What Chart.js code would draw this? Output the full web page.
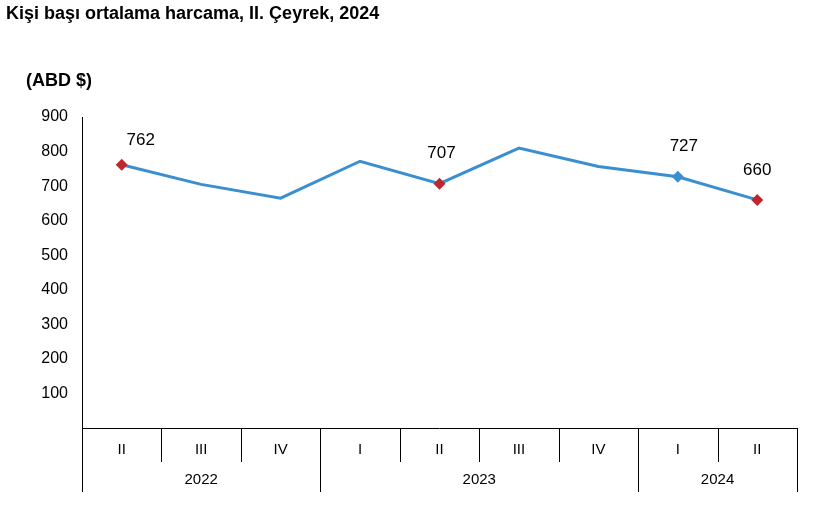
<!DOCTYPE html><html><head><meta charset="utf-8">
<script src="https://cdn.jsdelivr.net/npm/chart.js@4/dist/chart.umd.min.js"></script>
<style>body{margin:0;background:#fff}#w{position:relative;width:820px;height:512px}
.t{position:absolute;font-family:"Liberation Sans",Arial,sans-serif;font-weight:bold;color:#000}</style></head><body>
<div id="w"><div class="t" style="left:6px;top:3px;font-size:18px">Kişi başı ortalama harcama, II. Çeyrek, 2024</div>
<div class="t" style="left:26px;top:70px;font-size:18px">(ABD $)</div>
<canvas id="c" width="820" height="512"></canvas></div>
<script>
const quarters=["II","III","IV","I","II","III","IV","I","II"];
const years=[{label:"2022",from:0,to:2},{label:"2023",from:3,to:6},{label:"2024",from:7,to:8}];
const values=[762,705,665,772,707,810,757,727,660];
const shownLabels=[762,null,null,null,707,null,null,727,660];
const markerColors=["#c0272d",null,null,null,"#c0272d",null,null,"#3a8fd0","#c0272d"];
const yTicks=[100,200,300,400,500,600,700,800,900];
const F='"Liberation Sans",Arial,sans-serif';
const deco={id:'deco',afterDraw(ch){const c=ch.ctx,x=ch.scales.x,a=ch.chartArea;const n=quarters.length;const w=(a.right-a.left)/n;
c.save();c.strokeStyle='#000';c.lineWidth=1;c.beginPath();c.moveTo(a.left,a.bottom+0.5);c.lineTo(a.right,a.bottom+0.5);c.stroke();
const starts=years.map(y=>y.from);
for(let i=0;i<=n;i++){const px=Math.round(a.left+i*w)+0.5;const long=starts.includes(i)||i==n;c.beginPath();c.moveTo(px,a.bottom);c.lineTo(px,a.bottom+(long?64:34));c.stroke();}
c.fillStyle='#000';c.font='15px '+F;c.textAlign='center';c.textBaseline='middle';
quarters.forEach((q,i)=>c.fillText(q,x.getPixelForValue(i),a.bottom+22));
years.forEach(y=>c.fillText(y.label,a.left+(y.from+y.to+1)/2*w,a.bottom+52));
const m=ch.getDatasetMeta(0);c.font='17px '+F;
values.forEach((v,i)=>{const p=m.data[i];if(markerColors[i]){c.fillStyle=markerColors[i];c.beginPath();c.moveTo(p.x,p.y-6);c.lineTo(p.x+6,p.y);c.lineTo(p.x,p.y+6);c.lineTo(p.x-6,p.y);c.closePath();c.fill();}
if(shownLabels[i]!=null){c.fillStyle='#000';c.fillText(shownLabels[i],p.x+(i==0?19:i==4?2:i==7?6:0),p.y-(i==0?24:30));}});
c.restore();}};
new Chart(document.getElementById('c'),{type:'line',data:{labels:quarters,datasets:[{data:values,borderColor:'#3a8fd0',borderWidth:3,pointRadius:0,tension:0}]},
options:{responsive:false,animation:false,layout:{padding:{left:0,top:117,right:23,bottom:84}},plugins:{legend:{display:false},tooltip:{enabled:false}},
scales:{x:{offset:true,ticks:{display:false},grid:{display:false},border:{display:false},afterFit(s){s.height=0}},
y:{min:0,max:900,afterBuildTicks(s){s.ticks=yTicks.map(v=>({value:v}))},afterFit(s){s.width=82},grid:{display:false,drawTicks:false},border:{display:true,color:'#000'},
ticks:{padding:14,color:'#000',font:{size:16,family:F}}}}},plugins:[deco]});
</script></body></html>
